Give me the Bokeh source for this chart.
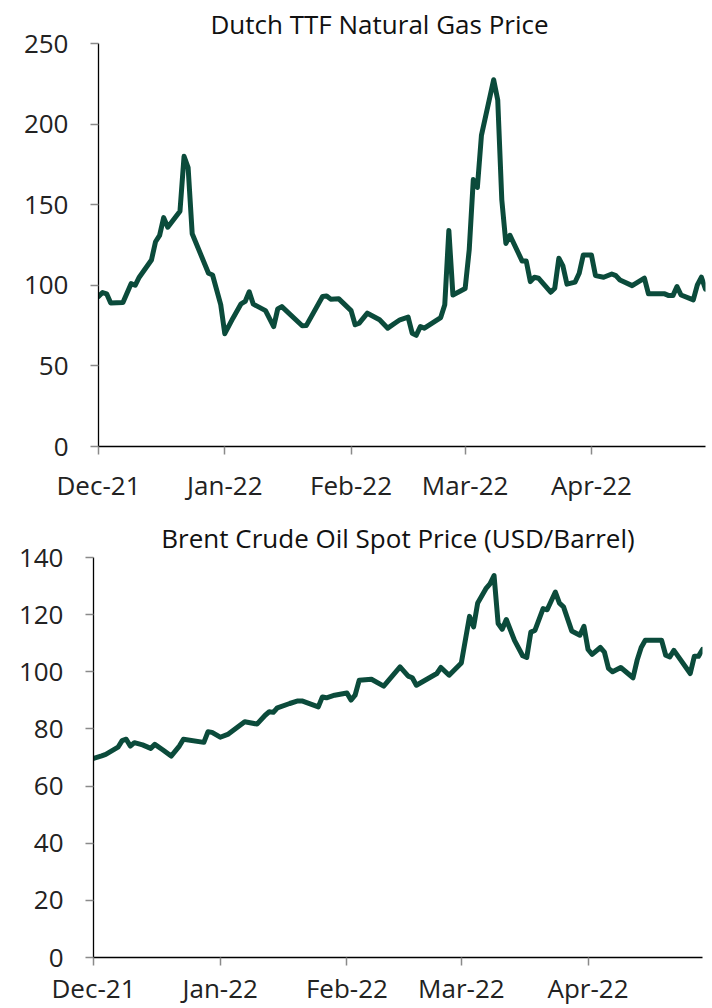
import pandas as pd
from bokeh.plotting import figure
from bokeh.layouts import column
from bokeh.models import Range1d, FixedTicker, DatetimeTickFormatter, Title
from bokeh.embed import file_html
from bokeh.resources import INLINE

# ---------------- data ----------------
start_date = "2021-12-01"
end_date = "2022-04-29"
month_ticks = ["2021-12-01", "2022-01-01", "2022-02-01", "2022-03-01", "2022-04-01"]

gas_day = [0, 1, 2, 3, 6, 8, 9, 10, 13, 14, 15, 16, 17, 20, 21, 22, 23, 27, 28, 30,
           31, 33, 35, 36, 37, 38, 41, 43, 44, 45, 50, 51, 55, 56, 57, 59, 62, 63, 64, 66,
           69, 71, 73, 74, 76, 77, 78, 79, 80, 84, 85, 86, 87, 90, 91, 92, 93, 94, 97, 98,
           99, 100, 101, 104, 105, 106, 107, 108, 111, 112, 113, 114, 115, 117, 118, 119,
           121, 122, 124, 126, 127, 128, 131, 134, 135, 139, 140, 141, 142, 143, 146, 147,
           148, 149]
gas_price = [93, 95.5, 94.7, 89, 89.3, 101, 100, 105, 115.7, 127, 131, 142, 136, 146, 180,
             173, 132, 107.5, 106.4, 88, 70, 79.6, 88.5, 90, 96, 88.3, 84.3, 74.4, 85.4, 86.8,
             74.9, 75, 93, 93.4, 91.4, 91.6, 84.3, 75.5, 76.5, 82.7, 78.6, 73.4, 76.9, 78.6,
             80.3, 70.3, 69, 74.4, 73.4, 80, 88, 134, 94, 98, 122, 165.6, 160.7, 193, 227.5,
             215, 153, 126, 131, 115, 115, 102.3, 105, 104.4, 95.7, 98.2, 116.8, 112, 100.7,
             102, 107.5, 118.8, 118.8, 106, 105, 107, 106, 103.3, 99.8, 104.4, 94.7, 94.7,
             93.6, 93.6, 99.2, 94, 91, 100.3, 105, 97.6]

oil_day = [0, 2, 3, 6, 7, 8, 9, 10, 12, 14, 15, 17, 19, 21, 22, 27, 28, 29, 31, 33, 37, 40,
           42, 43, 44, 45, 48, 50, 51, 55, 56, 57, 59, 62, 63, 64, 65, 68, 71, 75, 77, 78, 79,
           84, 85, 87, 90, 92, 93, 94, 96, 97, 98, 99, 100, 101, 103, 105, 106, 107, 108, 110,
           111, 113, 114, 115, 117, 119, 120, 121, 122, 124, 125, 126, 127, 129, 132, 133,
           134, 135, 139, 140, 141, 142, 146, 147, 148, 149]
oil_price = [69.7, 70.6, 71.1, 73.6, 75.9, 76.4, 74, 75.2, 74.4, 73.2, 74.6, 72.6, 70.5, 74,
             76.4, 75.3, 79, 78.8, 77.1, 78.2, 82.5, 81.7, 84.8, 86, 85.8, 87.4, 88.9, 89.8,
             89.8, 87.7, 91.2, 90.9, 91.8, 92.6, 90.1, 91.8, 97, 97.4, 95, 101.7, 98.5, 97.9,
             95.3, 99.4, 101.5, 98.8, 103.1, 119.4, 115.7, 124.1, 129.1, 130.8, 133.7, 116.9,
             114.9, 118.3, 111, 105.6, 105, 113.9, 114.5, 122.1, 121.7, 127.9, 124, 122.7,
             114.3, 112.8, 115.9, 107.8, 106.1, 108.5, 106.9, 101.2, 100, 101.5, 97.9, 104,
             108.5, 111, 111, 105.8, 105.2, 107.5, 99.4, 105.4, 105.4, 107.8]

gas_title = "Dutch TTF Natural Gas Price"
oil_title = "Brent Crude Oil Spot Price (USD/Barrel)"
gas_yticks = [0, 50, 100, 150, 200, 250]
oil_yticks = [0, 20, 40, 60, 80, 100, 120, 140]

# ---------------- styling ----------------
LINE_COLOR = "#0b4b3b"
FONT = "Open Sans"
TICK_COLOR = "#8a8a8a"
LABEL_COLOR = "#222222"


def to_dates(days):
    return pd.Timestamp(start_date) + pd.to_timedelta(days, unit="D")


def ms(d):
    return pd.Timestamp(d).value / 1e6


def make_fig(days, values, title, yticks, ymax, width, height, bl, br, bt, bb,
             align, offset, xstandoff):
    p = figure(width=width, height=height, x_axis_type="datetime",
               output_backend="svg", toolbar_location=None,
               x_range=Range1d(ms(start_date), ms(end_date)),
               y_range=Range1d(0, ymax),
               min_border_left=bl, min_border_right=br,
               min_border_top=bt, min_border_bottom=bb)
    if "frame_align" in p.properties():
        p.frame_align = False
    p.title = Title(text=title, align=align, offset=offset,
                    text_font=FONT, text_font_size="26px",
                    text_font_style="normal", text_color="#111111", standoff=4)
    p.line(to_dates(days), values, line_color=LINE_COLOR, line_width=5,
           line_join="round", line_cap="round")
    p.grid.visible = False
    p.outline_line_color = None
    p.background_fill_color = "white"
    p.border_fill_color = "white"

    xa = p.xaxis[0]
    xa.ticker = FixedTicker(ticks=[ms(t) for t in month_ticks])
    fmt = "%b-%y"
    xa.formatter = DatetimeTickFormatter(
        milliseconds=fmt, seconds=fmt, minsec=fmt, minutes=fmt, hourmin=fmt,
        hours=fmt, days=fmt, months=fmt, years=fmt)
    ya = p.yaxis[0]
    ya.ticker = FixedTicker(ticks=yticks)
    for ax in (xa, ya):
        ax.axis_line_color = "black"
        ax.axis_line_width = 1.3
        ax.major_tick_line_color = TICK_COLOR
        ax.major_tick_line_width = 1.5
        ax.major_tick_out = 8
        ax.major_tick_in = 0
        ax.minor_tick_line_color = None
        ax.major_label_text_font = FONT
        ax.major_label_text_font_size = "26px"
        ax.major_label_text_color = LABEL_COLOR
    xa.major_label_standoff = xstandoff
    ya.major_label_standoff = 22
    return p


p1 = make_fig(gas_day, gas_price, gas_title, gas_yticks, 250,
              width=706, height=505, bl=98, br=1, bt=43, bb=58,
              align="left", offset=112, xstandoff=12)
p2 = make_fig(oil_day, oil_price, oil_title, oil_yticks, 140,
              width=706, height=503, bl=93, br=4, bt=52, bb=50,
              align="center", offset=0, xstandoff=4)

layout = column(p1, p2)
open("out.html", "w").write(file_html(layout, INLINE))
